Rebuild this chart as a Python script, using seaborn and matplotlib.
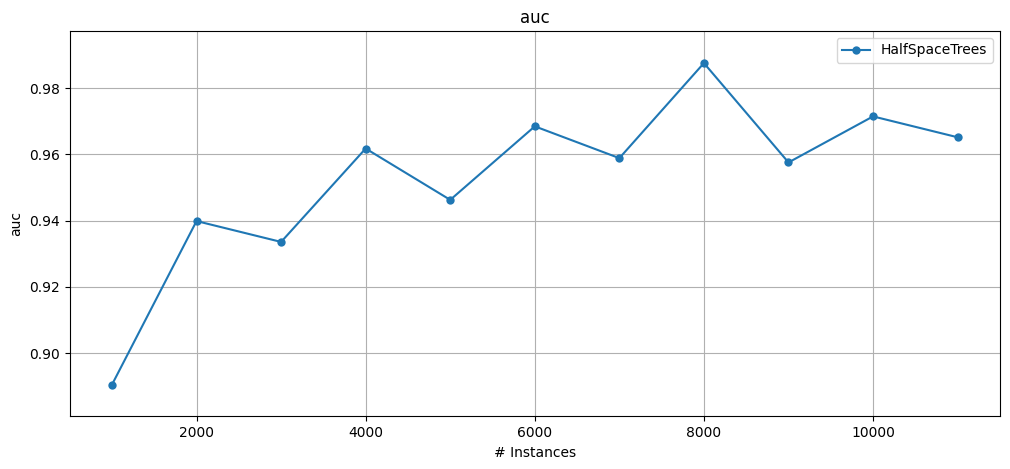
import matplotlib
matplotlib.use("Agg")
import matplotlib.pyplot as plt
import seaborn as sns
import pandas as pd

instances = [1000, 2000, 3000, 4000, 5000, 6000, 7000, 8000, 9000, 10000, 11000]
auc = [0.8905, 0.9399, 0.9336, 0.9618, 0.9463, 0.9685, 0.9589, 0.9876, 0.9576, 0.9715, 0.9652]
model_name = "HalfSpaceTrees"

df = pd.DataFrame({"# Instances": instances, "auc": auc, "model": model_name})

fig, ax = plt.subplots(figsize=(10.1, 4.69), dpi=100)
sns.lineplot(data=df, x="# Instances", y="auc", marker="o", markersize=6,
             markeredgewidth=0, color="#1f77b4", label=model_name, ax=ax)
ax.grid(True)
ax.set_title("auc")
ax.set_xlabel("# Instances")
ax.set_ylabel("auc")
ax.set_ylim(0.8809, 0.9973)
ax.legend(loc="upper right")
fig.subplots_adjust(left=0.069, right=0.99, top=0.934, bottom=0.112)
fig.savefig("out.png", dpi=100)
